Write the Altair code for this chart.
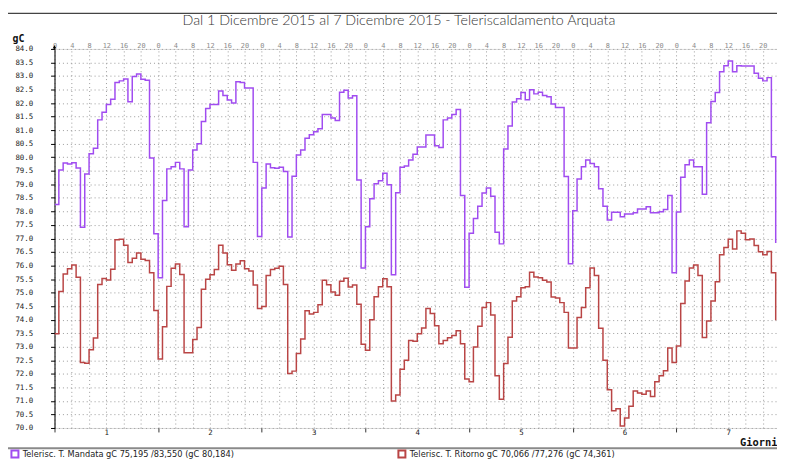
import altair as alt
import pandas as pd

# ---- data (hourly readings, 1-7 Dec 2015) ----
hours = list(range(168))

mandata = [
    78.25, 79.53, 79.79, 79.75, 79.80, 79.60, 77.41, 79.38, 80.13, 80.33, 81.38, 81.66,
    81.95, 82.14, 82.76, 82.82, 82.89, 82.05, 82.98, 83.07, 82.88, 82.84, 79.97, 77.17,
    75.55, 78.40, 79.57, 79.65, 79.81, 79.57, 77.43, 79.53, 80.27, 80.50, 81.32, 81.80,
    81.95, 81.95, 82.45, 82.28, 82.11, 82.00, 82.79, 82.76, 82.56, 82.56, 79.81, 77.07,
    78.86, 79.75, 79.61, 79.59, 79.63, 79.47, 77.05, 79.30, 80.08, 80.27, 80.70, 80.83,
    80.94, 81.05, 81.58, 81.58, 81.45, 81.36, 82.40, 82.47, 82.19, 82.27, 79.16, 75.91,
    77.43, 78.47, 79.02, 79.13, 79.41, 78.98, 75.66, 78.69, 79.63, 79.68, 79.90, 80.11,
    80.38, 80.38, 80.82, 80.82, 80.42, 80.36, 81.38, 81.45, 81.58, 81.76, 78.59, 75.20,
    77.19, 77.74, 78.19, 78.68, 78.86, 78.56, 77.23, 76.80, 80.30, 81.15, 82.04, 82.16,
    82.39, 82.12, 82.49, 82.34, 82.40, 82.28, 82.23, 81.97, 81.84, 81.84, 79.29, 76.07,
    78.02, 79.20, 79.65, 79.90, 79.77, 79.65, 78.84, 78.19, 77.68, 77.97, 77.97, 77.80,
    77.90, 77.90, 77.95, 78.09, 78.09, 78.17, 77.95, 77.95, 77.99, 78.07, 78.59, 75.73,
    77.98, 79.26, 79.72, 79.90, 79.65, 79.65, 78.63, 81.27, 82.06, 82.39, 83.16, 83.38,
    83.55, 83.16, 83.38, 83.37, 83.37, 83.37, 83.10, 82.92, 82.82, 82.94, 80.02, 76.83,
]

ritorno = [
    73.48, 75.04, 75.69, 75.88, 76.02, 75.57, 72.42, 72.39, 72.89, 73.32, 75.30, 75.52,
    75.47, 75.86, 76.95, 76.97, 76.75, 76.11, 76.27, 76.46, 76.23, 76.19, 75.73, 74.34,
    72.55, 73.74, 75.23, 75.90, 76.06, 75.67, 72.78, 72.78, 73.27, 73.71, 75.12, 75.49,
    75.66, 75.85, 76.75, 76.46, 76.03, 75.83, 76.06, 76.18, 75.88, 75.80, 75.28, 74.41,
    74.49, 75.63, 75.85, 75.90, 75.97, 75.30, 72.01, 72.10, 72.75, 73.29, 74.33, 74.21,
    74.27, 74.55, 75.46, 75.29, 75.02, 74.90, 75.42, 75.53, 75.21, 75.28, 74.57, 73.09,
    72.87, 74.00, 74.85, 75.22, 75.51, 75.22, 71.00, 71.22, 72.17, 72.50, 73.23, 73.20,
    73.48, 73.69, 74.41, 74.23, 73.78, 73.11, 73.23, 73.33, 73.42, 73.59, 73.11, 71.81,
    71.71, 72.99, 73.76, 74.45, 74.63, 74.17, 71.93, 71.06, 72.38, 73.35, 74.69, 74.85,
    75.18, 75.22, 75.75, 75.58, 75.55, 75.46, 75.39, 74.84, 74.80, 74.63, 74.27, 72.95,
    72.95, 74.08, 74.45, 75.18, 75.91, 75.63, 73.68, 72.50, 71.41, 70.64, 70.71, 70.07,
    70.37, 70.80, 71.37, 71.29, 71.25, 71.37, 71.16, 71.71, 71.93, 72.11, 72.95, 72.42,
    73.03, 74.60, 75.43, 75.91, 76.02, 75.63, 73.34, 73.95, 74.69, 75.40, 76.40, 76.67,
    76.97, 76.61, 77.28, 77.19, 76.95, 76.98, 76.74, 76.51, 76.40, 76.52, 75.73, 73.98,
]

series_names = [
    "Telerisc. T. Mandata gC  75,195 /83,550 (gC 80,184)",
    "Telerisc. T. Ritorno gC  70,066 /77,276 (gC 74,361)",
]
series_colors = ["#a04cf0", "#b94545"]

y_ticks = [70 + 0.5 * i for i in range(29)]
hour_ticks = list(range(0, 168, 4))
day_ticks = list(range(0, 168, 12))
title_text = "Dal 1 Dicembre 2015 al 7 Dicembre 2015 - Teleriscaldamento Arquata"

df = pd.DataFrame({
    "ora": hours + hours,
    "valore": mandata + ritorno,
    "serie": [series_names[0]] * len(hours) + [series_names[1]] * len(hours),
})
frame_df = pd.DataFrame({"k": [0]})

W, H = 730, 383
MONO = "DejaVu Sans Mono"
NARROW = "DejaVu Sans Condensed, Liberation Sans, Arial, sans-serif"

xscale = alt.Scale(domain=[0, 167.3], nice=False, zero=False)
yscale = alt.Scale(domain=[70, 84], nice=False, zero=False)

lines = alt.Chart(df).mark_line(interpolate="step-after", strokeWidth=1.5, clip=True).encode(
    x=alt.X("ora:Q", scale=xscale, axis=alt.Axis(
        orient="top", values=hour_ticks, labelExpr="'' + (datum.value % 24)",
        grid=True, gridDash=[1, 3], gridColor="#9a9a9a", gridWidth=1,
        domain=False, ticks=False, tickSize=0, labelPadding=3,
        labelBaseline="middle", labelAlign="center", labelFont=MONO, labelFontSize=7,
        labelColor="#8a8a8a", labelOverlap=False, labelFlush=False, title=None)),
    y=alt.Y("valore:Q", scale=yscale, axis=alt.Axis(
        values=y_ticks, format=".1f", grid=True, gridDash=[1, 3], gridColor="#9a9a9a",
        domainColor="#000000", domainWidth=1, tickColor="#000000", tickSize=4,
        labelPadding=18, labelFont=MONO, labelFontSize=7.5, labelColor="#222222",
        labelOverlap=False, labelFlush=False,
        title="gC", titleAngle=0, titleX=-43, titleY=-10, titleAlign="left",
        titleBaseline="middle", titleFont=MONO, titleFontWeight="bold",
        titleFontSize=10, titleColor="#111111")),
    color=alt.Color("serie:N", scale=alt.Scale(domain=series_names, range=series_colors),
                    legend=alt.Legend(
                        orient="none", legendX=-45, legendY=404, direction="horizontal",
                        columns=2, gridAlign="all", columnPadding=158, title=None,
                        symbolType="square", symbolSize=50, symbolStrokeWidth=2,
                        symbolFillColor="white", symbolOffset=0, labelOffset=3,
                        labelFont=NARROW, labelFontSize=9.25,
                        labelColor="#222222", labelLimit=400, padding=0)),
)

bottom_axis = alt.Chart(df).mark_point(opacity=0).encode(
    x=alt.X("ora:Q", scale=xscale, axis=alt.Axis(
        orient="bottom", values=day_ticks,
        labelExpr="datum.value % 24 == 12 ? '' + (floor(datum.value / 24) + 1) : ''",
        domain=False, grid=False, tickSize=4,
        tickColor={"condition": {"test": "datum.value % 24 == 0", "value": "#333333"},
                   "value": "transparent"},
        labelPadding=1, labelBaseline="middle", labelFont=MONO, labelFontSize=7.5,
        labelColor="#222222", labelOverlap=False, labelFlush=False,
        title="Giorni", titleX=W, titleY=15, titleAlign="right", titleBaseline="middle",
        titleFont=MONO, titleFontWeight="bold", titleFontSize=10.5, titleColor="#111111")),
)

# decorative frame and y-axis arrowhead
top_border = alt.Chart(frame_df).mark_rule(color="#444444", strokeWidth=1.2).encode(
    x=alt.value(-48), x2=alt.value(W + 10), y=alt.value(-36))
left_border = alt.Chart(frame_df).mark_rule(color="#444444", strokeWidth=1.2).encode(
    x=alt.value(-48), y=alt.value(-36), y2=alt.value(H + 40))
bottom_border = alt.Chart(frame_df).mark_rule(color="#8a8a8a", strokeWidth=2).encode(
    x=alt.value(-48), x2=alt.value(W + 10), y=alt.value(403.5))
y_arrow_line = alt.Chart(frame_df).mark_rule(color="#000000", strokeWidth=1).encode(
    x=alt.value(0), y=alt.value(-3), y2=alt.value(0))
y_arrow = alt.Chart(frame_df).mark_point(
    shape="triangle-up", filled=True, color="#000000", size=14, opacity=1).encode(
    x=alt.value(0), y=alt.value(-2))

chart = alt.layer(lines, bottom_axis, top_border, left_border, bottom_border,
                  y_arrow_line, y_arrow).resolve_scale(
    x="shared", y="shared"
).resolve_axis(x="independent").properties(
    width=W, height=H,
    padding={"left": 47, "top": 39, "right": 0, "bottom": 31},
    autosize=alt.AutoSizeParams(type="none"),
    title=alt.TitleParams(title_text, anchor="middle", frame="group", dx=-17, offset=-27,
                          baseline="alphabetic", font="Lato", fontWeight=300,
                          fontSize=14.4, color="#333333"),
).configure_view(stroke=None).configure(background="white")

chart.save("out.html", embed_options={"renderer": "svg", "actions": False})
